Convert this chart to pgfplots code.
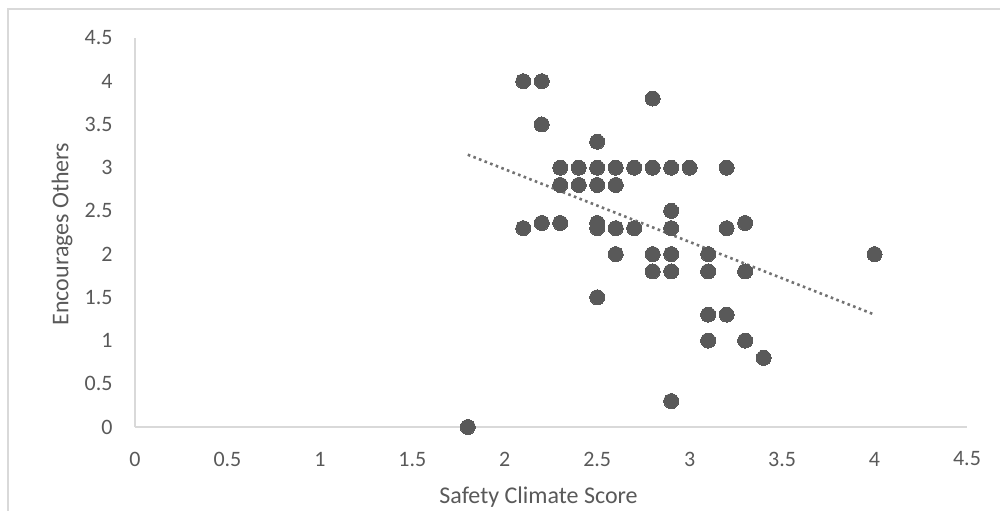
\documentclass[border=0pt]{standalone}
\usepackage{pgfplots}
\pgfplotsset{compat=1.18}
\usepackage{fontspec}
\setmainfont{Carlito}
\definecolor{txt}{HTML}{595959}
\definecolor{axl}{HTML}{D9D9D9}
\definecolor{mk}{HTML}{595959}
\begin{document}
\begin{tikzpicture}
\path[use as bounding box] (0,0) rectangle (500pt,255pt);
\draw[axl, line width=0.8pt] (4pt,-5pt) -- (4pt,250.5pt) -- (505pt,250.5pt);
\begin{axis}[
  at={(67.5pt,41.5pt)}, anchor=south west,
  scale only axis, width=416pt, height=194.5pt,
  xmin=0, xmax=4.5, ymin=0, ymax=4.5,
  xtick={0,0.5,...,4.5}, ytick={0,0.5,...,4.5},
  xticklabels={0,0.5,1,1.5,2,2.5,3,3.5,4,4.5},
  yticklabels={0,0.5,1,1.5,2,2.5,3,3.5,4,4.5},
  axis x line=bottom, axis y line=left,
  axis line style={axl, line width=1pt, -},
  major tick length=0pt,
  /pgf/number format/assume math mode=true,
  tick label style={font=\fontsize{11}{13}\selectfont, text=txt},
  xticklabel style={anchor=center, yshift=-16pt, inner sep=0pt},
  yticklabel style={anchor=east, xshift=-11pt, inner sep=0pt},
  xlabel={Safety Climate Score},
  ylabel={Encourages Others},
  label style={font=\fontsize{12}{14}\selectfont, text=txt},
  xlabel style={at={(axis description cs:0.485,-0.18)}, anchor=center},
  ylabel style={at={(axis description cs:-0.0877,0.496)}, anchor=center},
  clip=false,
]
\addplot[only marks, mark=*, mark size=3.75pt, mark options={fill=mk, draw=mk, line width=0pt}] coordinates {
(2.1,4) (2.2,4) (2.2,3.5) (2.8,3.8) (2.5,3.3)
(2.3,3) (2.4,3) (2.5,3) (2.6,3) (2.7,3) (2.8,3) (2.9,3) (3.0,3) (3.2,3)
(2.3,2.8) (2.4,2.8) (2.5,2.8) (2.6,2.8)
(2.1,2.3) (2.2,2.36) (2.3,2.36) (2.5,2.36) (2.5,2.3) (2.6,2.3) (2.7,2.3)
(2.9,2.5) (2.9,2.3) (3.2,2.3) (3.3,2.36)
(2.6,2.0) (2.8,2.0) (2.9,2.0) (3.1,2.0) (4.0,2.0)
(2.8,1.8) (2.9,1.8) (3.1,1.8) (3.3,1.8)
(2.5,1.5)
(3.1,1.3) (3.2,1.3)
(3.1,1.0) (3.3,1.0)
(3.4,0.8)
(2.9,0.3)
(1.8,0)
};
\addplot[color=mk!85, line width=1.3pt, dash pattern=on 1.3pt off 1.7pt] coordinates {(1.8,3.15) (4.0,1.30)};
\end{axis}
\end{tikzpicture}
\end{document}
